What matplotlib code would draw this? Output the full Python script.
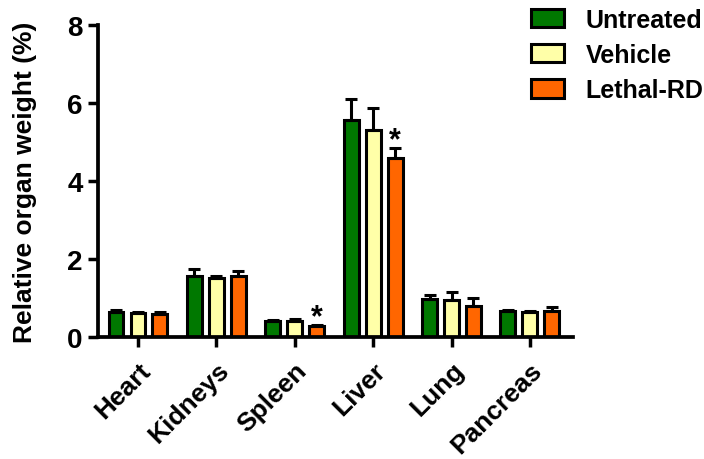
import numpy as np
import matplotlib
matplotlib.use("Agg")
from matplotlib import pyplot as plt

organs = ["Heart", "Kidneys", "Spleen", "Liver", "Lung", "Pancreas"]
groups = ["Untreated", "Vehicle", "Lethal-RD"]
untreated = [0.65, 1.57, 0.40, 5.57, 0.97, 0.66]
untreated_err = [0.04, 0.17, 0.04, 0.54, 0.11, 0.04]
vehicle = [0.61, 1.51, 0.40, 5.32, 0.95, 0.63]
vehicle_err = [0.03, 0.05, 0.05, 0.55, 0.20, 0.03]
lethal = [0.60, 1.57, 0.29, 4.58, 0.79, 0.66]
lethal_err = [0.04, 0.11, 0.03, 0.27, 0.22, 0.12]
significant = [False, False, True, True, False, False]  # lethal vs untreated

colors = ["#007800", "#FFFFA8", "#FF6600"]

plt.rcParams["font.family"] = ["Liberation Sans", "DejaVu Sans"]
plt.rcParams["font.weight"] = "bold"

fig = plt.figure(figsize=(7.04, 4.6), dpi=100)
ax = fig.add_axes([98 / 704, 122 / 460, 475 / 704, 312 / 460])

x = np.arange(len(organs))
step = 0.28
width = 0.19
series = [(untreated, untreated_err), (vehicle, vehicle_err), (lethal, lethal_err)]
for i, (vals, errs) in enumerate(series):
    pos = x + (i - 1) * step
    ax.bar(pos, vals, width=width, color=colors[i], edgecolor="black",
           linewidth=2.2, label=groups[i], zorder=2,
           yerr=[np.zeros(len(errs)), errs],
           error_kw=dict(ecolor="black", elinewidth=2.2, capsize=4, capthick=2.2))

# stars over significant bars
for j, sig in enumerate(significant):
    if sig:
        ax.text(x[j] + step, lethal[j] + lethal_err[j] - 0.2, "*",
                ha="center", va="bottom", fontsize=22, fontweight="bold")

ax.set_xlim(-0.51, len(organs) - 1 + 0.55)
ax.set_ylim(0, 8)
ax.set_yticks([0, 2, 4, 6, 8])
ax.set_xticks(x)
ax.set_xticklabels(organs, rotation=45, ha="right", rotation_mode="anchor",
                   fontsize=19, fontweight="bold")
ax.tick_params(axis="y", labelsize=20, width=2.5, length=7, pad=4)
ax.tick_params(axis="x", width=2.5, length=7, pad=8)
for lbl in ax.get_yticklabels():
    lbl.set_fontweight("bold")

ax.set_ylabel("Relative organ weight (%)", fontsize=19, fontweight="bold", labelpad=22)
for side in ["top", "right"]:
    ax.spines[side].set_visible(False)
for side in ["left", "bottom"]:
    ax.spines[side].set_linewidth(2.7)

leg = fig.legend(loc="upper left", bbox_to_anchor=(508 / 704, 1.03), frameon=False,
                 prop=dict(size=18, weight="bold"), handlelength=1.35,
                 handleheight=0.75, labelspacing=0.45, handletextpad=0.85)

fig.savefig("out.png", dpi=100)
